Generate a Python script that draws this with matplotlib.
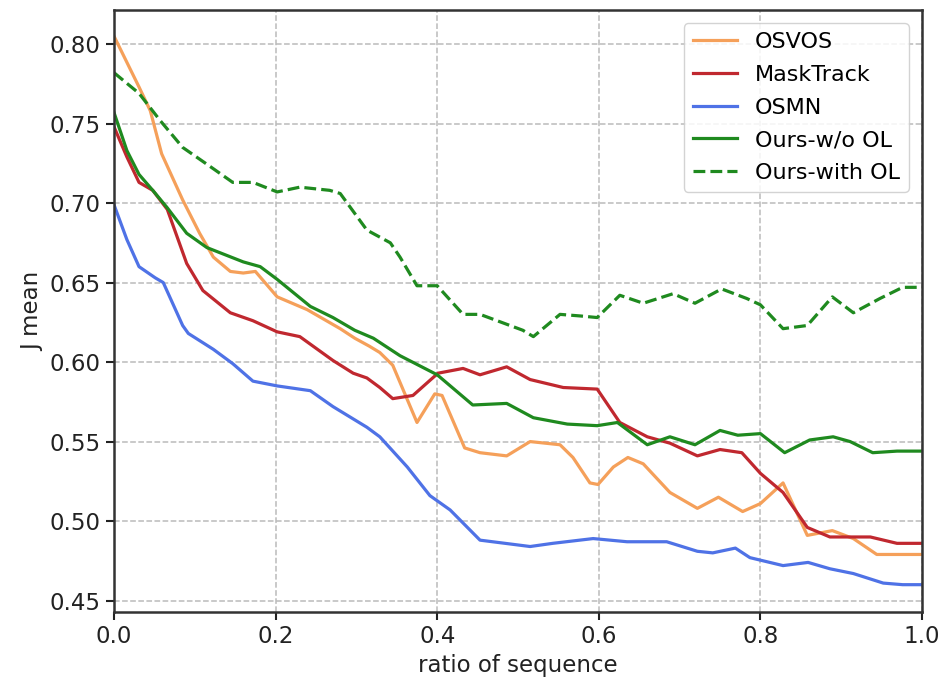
import matplotlib
matplotlib.use("Agg")
import matplotlib.pyplot as plt

# ---------- data ----------
osvos_x = [0, 0.031, 0.045, 0.059, 0.085, 0.106, 0.123, 0.144, 0.160, 0.175, 0.202, 0.239,
           0.280, 0.298, 0.316, 0.329, 0.345, 0.375, 0.397, 0.406, 0.434, 0.453, 0.486, 0.515,
           0.552, 0.568, 0.589, 0.599, 0.618, 0.636, 0.655, 0.688, 0.722, 0.748, 0.778, 0.800,
           0.828, 0.858, 0.889, 0.915, 0.944, 1.0]
osvos_y = [0.805, 0.773, 0.758, 0.731, 0.702, 0.681, 0.666, 0.657, 0.656, 0.657, 0.641, 0.633,
           0.621, 0.615, 0.610, 0.606, 0.598, 0.562, 0.580, 0.579, 0.546, 0.543, 0.541, 0.550,
           0.548, 0.540, 0.524, 0.523, 0.534, 0.540, 0.536, 0.518, 0.508, 0.515, 0.506, 0.511,
           0.524, 0.491, 0.494, 0.489, 0.479, 0.479]

masktrack_x = [0, 0.016, 0.031, 0.048, 0.066, 0.090, 0.110, 0.144, 0.172, 0.202, 0.230, 0.271,
               0.296, 0.313, 0.329, 0.345, 0.370, 0.401, 0.432, 0.453, 0.486, 0.515, 0.556,
               0.598, 0.626, 0.660, 0.688, 0.722, 0.750, 0.777, 0.800, 0.828, 0.858, 0.886,
               0.936, 0.969, 1.0]
masktrack_y = [0.748, 0.729, 0.713, 0.708, 0.696, 0.662, 0.645, 0.631, 0.626, 0.619, 0.616, 0.601,
               0.593, 0.590, 0.584, 0.577, 0.579, 0.593, 0.596, 0.592, 0.597, 0.589, 0.584,
               0.583, 0.562, 0.553, 0.549, 0.541, 0.545, 0.543, 0.530, 0.518, 0.496, 0.490,
               0.490, 0.486, 0.486]

osmn_x = [0, 0.016, 0.031, 0.051, 0.061, 0.085, 0.092, 0.123, 0.147, 0.172, 0.202, 0.243,
          0.271, 0.313, 0.329, 0.363, 0.391, 0.416, 0.453, 0.515, 0.543, 0.593, 0.635, 0.684,
          0.722, 0.741, 0.769, 0.787, 0.828, 0.859, 0.886, 0.915, 0.952, 0.976, 1.0]
osmn_y = [0.699, 0.677, 0.660, 0.653, 0.650, 0.623, 0.618, 0.608, 0.599, 0.588, 0.585, 0.582,
          0.572, 0.559, 0.553, 0.534, 0.516, 0.507, 0.488, 0.484, 0.486, 0.489, 0.487, 0.487,
          0.481, 0.480, 0.483, 0.477, 0.472, 0.474, 0.470, 0.467, 0.461, 0.460, 0.460]

ours_x = [0, 0.016, 0.031, 0.048, 0.066, 0.090, 0.115, 0.140, 0.160, 0.181, 0.202, 0.243,
          0.271, 0.298, 0.321, 0.342, 0.354, 0.400, 0.444, 0.486, 0.519, 0.561, 0.598, 0.623,
          0.660, 0.688, 0.719, 0.750, 0.772, 0.800, 0.830, 0.861, 0.890, 0.911, 0.939, 0.969, 1.0]
ours_y = [0.757, 0.733, 0.718, 0.708, 0.697, 0.681, 0.672, 0.667, 0.663, 0.660, 0.652, 0.635,
          0.628, 0.620, 0.615, 0.608, 0.604, 0.592, 0.573, 0.574, 0.565, 0.561, 0.560, 0.562,
          0.548, 0.553, 0.548, 0.557, 0.554, 0.555, 0.543, 0.551, 0.553, 0.550, 0.543, 0.544, 0.544]

ours_ol_x = [0, 0.031, 0.057, 0.085, 0.119, 0.147, 0.172, 0.202, 0.230, 0.267, 0.280, 0.313,
             0.342, 0.354, 0.375, 0.400, 0.432, 0.453, 0.506, 0.519, 0.552, 0.577, 0.598, 0.626,
             0.655, 0.692, 0.719, 0.752, 0.783, 0.800, 0.828, 0.858, 0.889, 0.915, 0.948, 0.976, 1.0]
ours_ol_y = [0.782, 0.769, 0.752, 0.735, 0.723, 0.713, 0.713, 0.707, 0.710, 0.708, 0.706, 0.683,
             0.675, 0.666, 0.648, 0.648, 0.630, 0.630, 0.620, 0.616, 0.630, 0.629, 0.628, 0.642,
             0.637, 0.643, 0.637, 0.646, 0.640, 0.636, 0.621, 0.623, 0.641, 0.631, 0.640, 0.647, 0.647]

xticks = [0.0, 0.2, 0.4, 0.6, 0.8, 1.0]
yticks = [0.45, 0.50, 0.55, 0.60, 0.65, 0.70, 0.75, 0.80]

# ---------- plot ----------
plt.rcParams['font.family'] = ['DejaVu Sans']
fig = plt.figure(figsize=(9.45, 6.82), dpi=100)
ax = fig.add_axes([0.1206, 0.1026, 0.8551, 0.8827])

lw = 2.3
ax.plot(osvos_x, osvos_y, color="#f5a05a", lw=lw, label="OSVOS")
ax.plot(masktrack_x, masktrack_y, color="#c0282f", lw=lw, label="MaskTrack")
ax.plot(osmn_x, osmn_y, color="#4f72e6", lw=lw, label="OSMN")
ax.plot(ours_x, ours_y, color="#1f8a1f", lw=lw, label="Ours-w/o OL")
ax.plot(ours_ol_x, ours_ol_y, color="#1f8a1f", lw=lw, ls="--", label="Ours-with OL")

ax.set_xlim(0, 1.0)
ax.set_ylim(0.4428, 0.8214)
ax.set_xticks(xticks)
ax.set_yticks(yticks)
ax.set_xticklabels([f"{t:.1f}" for t in xticks])
ax.set_yticklabels([f"{t:.2f}" for t in yticks])
ax.tick_params(labelsize=16.5, colors="#222222", length=6, width=1.5, direction="out")
ax.grid(True, color="#bbbbbb", ls="--", lw=1.1)
for s in ax.spines.values():
    s.set_color("#333333")
    s.set_linewidth(1.8)

ax.set_xlabel("ratio of sequence", fontsize=16.5, color="#222222")
ax.set_ylabel("J mean", fontsize=16.5, color="#222222")

ax.legend(loc="upper right", fontsize=16, framealpha=0.85, edgecolor="#cccccc",
          handlelength=2.0, borderaxespad=0.6, labelspacing=0.57)

fig.savefig("out.png", dpi=100)
